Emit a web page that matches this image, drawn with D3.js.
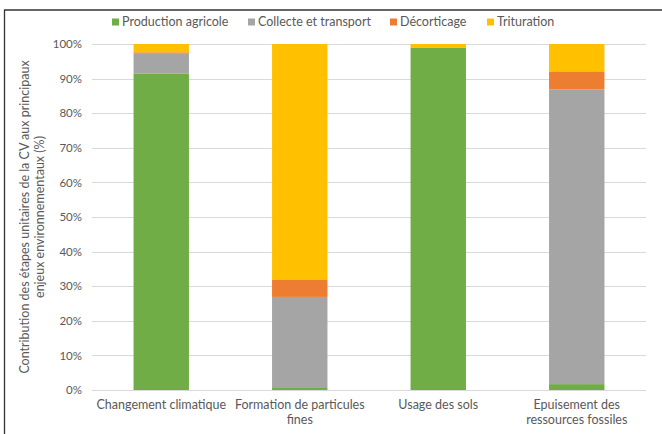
<!DOCTYPE html>
<html><head><meta charset="utf-8">
<script src="https://cdn.jsdelivr.net/npm/d3@7"></script>
<style>body{margin:0;background:#fff;} svg{display:block;font-family:Lato,"Open Sans",sans-serif;}</style>
</head><body><svg id="c" width="662" height="434"></svg>
<script>
const categories = [["Changement climatique"],["Formation de particules","fines"],["Usage des sols"],["Epuisement des","ressources fossiles"]];
const seriesNames = ["Production agricole","Collecte et transport","Décorticage","Trituration"];
const seriesColors = ["#70AD47","#A5A5A5","#ED7D31","#FFC000"];
const productionAgricole = [91.5, 0.8, 99.0, 1.7];
const collecteTransport = [5.7, 26.1, 0.0, 85.2];
const decorticage = [0.4, 4.9, 0.0, 5.2];
const trituration = [2.4, 68.2, 1.0, 7.9];
const yTicks = [0,10,20,30,40,50,60,70,80,90,100];

const svg = d3.select("#c");
const m = {l:92, r:16, t:44, b:44};
const W = 662, H = 434;
const x = d3.scaleBand().domain(d3.range(categories.length)).range([m.l, W-m.r]).paddingInner(0.6).paddingOuter(0.3);
const y = d3.scaleLinear().domain([0,100]).range([H-m.b, m.t]);

// frame
svg.append("line").attr("x1",4.5).attr("x2",4.5).attr("y1",10).attr("y2",H).attr("stroke","#333").attr("stroke-width",1.3);
svg.append("line").attr("x1",4).attr("x2",W).attr("y1",10).attr("y2",10).attr("stroke","#333").attr("stroke-width",1.3);

// grid
svg.append("g").selectAll("line").data(yTicks).join("line")
  .attr("x1",m.l).attr("x2",W-m.r).attr("y1",d=>Math.round(y(d))+0.5).attr("y2",d=>Math.round(y(d))+0.5)
  .attr("stroke","#D9D9D9").attr("stroke-width",1);

const yAxis = svg.append("g").attr("transform",`translate(${m.l},0)`)
  .call(d3.axisLeft(y).tickValues(yTicks).tickFormat(d=>d+"%").tickSize(0).tickPadding(10));
yAxis.select(".domain").remove();
yAxis.selectAll("text").attr("fill","#595959").style("font-size","11.5px").style("font-family","Lato, sans-serif");

// stacked data
const rows = categories.map((c,i)=>({i, s0:productionAgricole[i], s1:collecteTransport[i], s2:decorticage[i], s3:trituration[i]}));
const stack = d3.stack().keys(["s0","s1","s2","s3"])(rows);
svg.append("g").selectAll("g").data(stack).join("g").attr("fill",(d,k)=>seriesColors[k])
  .selectAll("rect").data(d=>d).join("rect")
  .attr("x",d=>x(d.data.i)).attr("width",x.bandwidth())
  .attr("y",d=>y(d[1])).attr("height",d=>Math.max(0,y(d[0])-y(d[1])));

// x labels
const xl = svg.append("g");
categories.forEach((lines,i)=>{
  const t = xl.append("text").attr("x",x(i)+x.bandwidth()/2).attr("y",H-m.b+19)
    .attr("text-anchor","middle").attr("fill","#595959").style("font-size","12.5px");
  lines.forEach((ln,j)=>t.append("tspan").attr("x",x(i)+x.bandwidth()/2).attr("dy",j?15:0).text(ln));
});

// y title
const yt = svg.append("text").attr("transform",`translate(29,${(y(0)+y(100))/2}) rotate(-90)`)
  .attr("text-anchor","middle").attr("fill","#595959").style("font-size","12.5px");
yt.append("tspan").attr("x",0).attr("dy",0).text("Contribution des étapes unitaires de la CV aux principaux");
yt.append("tspan").attr("x",0).attr("dy",15).text("enjeux environnementaux (%)");

// legend
const legX = [112, 248, 390, 487];
const lg = svg.append("g");
seriesNames.forEach((n,k)=>{
  lg.append("rect").attr("x",legX[k]).attr("y",18.5).attr("width",7).attr("height",7).attr("fill",seriesColors[k]);
  lg.append("text").attr("x",legX[k]+10).attr("y",26).attr("fill","#595959").style("font-size","12.5px").text(n);
});
</script></body></html>
